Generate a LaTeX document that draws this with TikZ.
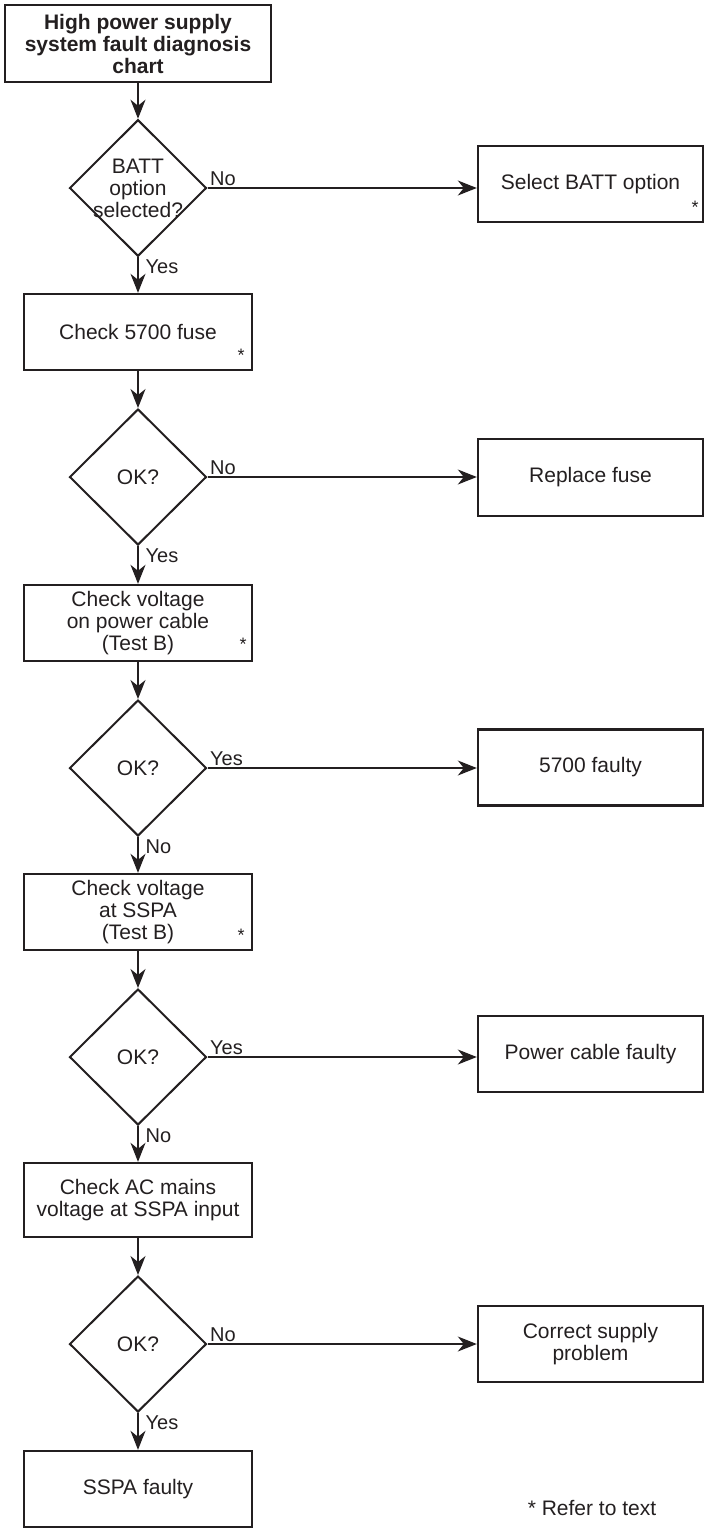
\documentclass[tikz,border=0pt]{standalone}
\usepackage{fontspec}
\setmainfont{Liberation Sans}
\usetikzlibrary{shapes.geometric,arrows.meta}
\definecolor{ink}{HTML}{231F20}

\tikzset{
  box/.style={draw=ink,line width=2.4pt,minimum width=228pt,minimum height=76pt,align=center,inner sep=0pt},
  rbox/.style={box,minimum width=225pt},
  decision/.style={draw=ink,line width=2pt,diamond,aspect=1,minimum width=137pt,minimum height=136pt,align=center,inner sep=0pt},
  arr/.style={draw=ink,line width=1.3pt,-{Stealth[length=19pt,width=15pt,inset=6pt]}},
  lbl/.style={font=\fontsize{20}{22}\selectfont,inner sep=2pt},
  star/.style={font=\fontsize{18}{18}\selectfont,inner sep=0pt,anchor=base}
}

\begin{document}
\begin{tikzpicture}[x=1pt,y=1pt,font=\fontsize{21}{22}\selectfont,text=ink]
\useasboundingbox (0,0) rectangle (704,-1528);

\node[box,minimum width=266pt,minimum height=77pt,font=\fontsize{21}{22}\selectfont\bfseries] (title) at (138,-43.5) {High power supply\\system fault diagnosis\\chart};

\node[decision,inner sep=-3pt] (batt) at (138,-188) {BATT\\option\\selected?};
\node[rbox] (select) at (590.5,-184) {Select BATT option};
\node[box] (fuse) at (138,-332) {Check 5700 fuse};
\node[decision] (ok1) at (138,-477) {OK?};
\node[rbox,minimum height=77pt] (replace) at (590.5,-477.5) {Replace fuse};
\node[box] (cable) at (138,-623) {Check voltage\\on power cable\\(Test B)};
\node[decision] (ok2) at (138,-768) {OK?};
\node[rbox] (faulty) at (590.5,-767.5) {5700 faulty};
\node[box] (sspa) at (138,-912) {Check voltage\\at SSPA\\(Test B)};
\node[decision] (ok3) at (138,-1057) {OK?};
\node[rbox] (cablefaulty) at (590.5,-1054) {Power cable faulty};
\node[box,minimum height=74pt] (mains) at (138,-1200) {Check AC mains\\voltage at SSPA input};
\node[decision] (ok4) at (138,-1344) {OK?};
\node[rbox] (supply) at (590.5,-1344) {Correct supply\\problem};
\node[box] (sspafaulty) at (138,-1489) {SSPA faulty};

\node[star] (selectstar) at ([shift={(-9,10)}]select.south east) {*};
\node[star] (fusestar) at ([shift={(-12,10)}]fuse.south east) {*};
\node[star] (cablestar) at ([shift={(-10,12)}]cable.south east) {*};
\node[star] (sspastar) at ([shift={(-12,10)}]sspa.south east) {*};
\node (note) at (592,-1508) {* Refer to text};

\draw[arr] (title) -- (batt);
\draw[arr] (batt.east) -- node[lbl,pos=0,anchor=south west] (battno) {No} (batt.east -| select.west);
\draw[arr] (batt.south) -- node[lbl,pos=0,anchor=north west,xshift=5pt] (battyes) {Yes} (fuse.north);
\draw[arr] (fuse) -- (ok1);
\draw[arr] (ok1.east) -- node[lbl,pos=0,anchor=south west] (ok1no) {No} (ok1.east -| replace.west);
\draw[arr] (ok1.south) -- node[lbl,pos=0,anchor=north west,xshift=5pt] (ok1yes) {Yes} (cable.north);
\draw[arr] (cable) -- (ok2);
\draw[arr] (ok2.east) -- node[lbl,pos=0,anchor=south west] (ok2yes) {Yes} (ok2.east -| faulty.west);
\draw[arr] (ok2.south) -- node[lbl,pos=0,anchor=north west,xshift=5pt] (ok2no) {No} (sspa.north);
\draw[arr] (sspa) -- (ok3);
\draw[arr] (ok3.east) -- node[lbl,pos=0,anchor=south west] (ok3yes) {Yes} (ok3.east -| cablefaulty.west);
\draw[arr] (ok3.south) -- node[lbl,pos=0,anchor=north west,xshift=5pt] (ok3no) {No} (mains.north);
\draw[arr] (mains) -- (ok4);
\draw[arr] (ok4.east) -- node[lbl,pos=0,anchor=south west] (ok4no) {No} (ok4.east -| supply.west);
\draw[arr] (ok4.south) -- node[lbl,pos=0,anchor=north west,xshift=5pt] (ok4yes) {Yes} (sspafaulty.north);
\end{tikzpicture}
\end{document}
